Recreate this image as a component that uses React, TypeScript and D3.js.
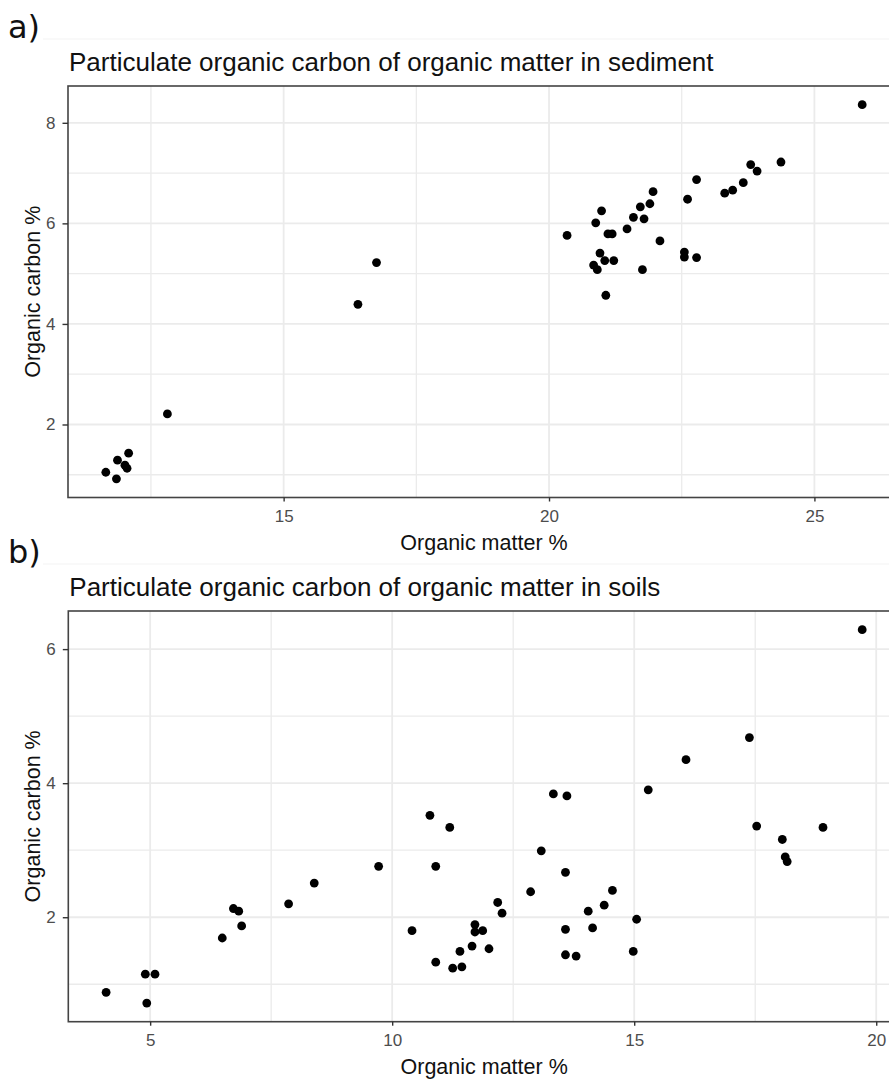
import React, { useRef, useEffect } from "react";
import * as d3 from "d3";

// sediment panel (a)
const sedimentOM = [
  11.65, 11.85, 11.87, 12.01, 12.05, 12.08, 12.81, 16.4, 16.75, 20.34, 20.88, 20.99, 21.11, 21.19,
  20.96, 20.84, 20.91, 21.05, 21.22, 21.07, 21.47, 21.59, 21.72, 21.79, 21.9, 21.96, 21.76, 22.09,
  22.55, 22.55, 22.61, 22.78, 22.78, 23.31, 23.46, 23.66, 23.8, 23.92, 24.37, 25.9,
];
const sedimentOC = [
  1.05, 0.92, 1.29, 1.19, 1.13, 1.43, 2.21, 4.39, 5.22, 5.76, 6.01, 6.25, 5.79, 5.79,
  5.41, 5.17, 5.08, 5.26, 5.26, 4.57, 5.89, 6.12, 6.33, 6.09, 6.39, 6.63, 5.08, 5.65,
  5.43, 5.33, 6.48, 6.87, 5.32, 6.6, 6.66, 6.81, 7.17, 7.04, 7.22, 8.36,
];
const sedimentXTicks = [15, 20, 25];
const sedimentXMinor = [12.5, 17.5, 22.5];
const sedimentYTicks = [2, 4, 6, 8];
const sedimentYMinor = [1, 3, 5, 7];

// soil panel (b)
const soilOM = [
  4.09, 4.9, 5.1, 4.93, 6.49, 6.72, 6.83, 6.89, 7.86, 8.39, 9.72, 10.78, 11.19, 10.9, 10.41, 10.9,
  11.25, 11.44, 11.4, 11.65, 11.71, 11.71, 11.87, 12.0, 12.18, 12.27, 12.86, 13.08, 13.33, 13.61,
  13.58, 13.58, 13.58, 13.8, 14.05, 14.14, 14.38, 14.55, 14.98, 15.05, 15.29, 16.07, 17.38, 17.53,
  18.06, 18.12, 18.16, 18.9, 19.71,
];
const soilOC = [
  0.88, 1.15, 1.15, 0.72, 1.69, 2.13, 2.09, 1.87, 2.2, 2.51, 2.76, 3.52, 3.34, 2.76, 1.8, 1.33,
  1.24, 1.26, 1.49, 1.57, 1.89, 1.78, 1.8, 1.53, 2.22, 2.06, 2.38, 2.99, 3.84, 3.81,
  2.67, 1.82, 1.44, 1.42, 2.09, 1.84, 2.18, 2.4, 1.49, 1.97, 3.9, 4.35, 4.68, 3.36,
  3.16, 2.9, 2.83, 3.34, 6.29,
];
const soilXTicks = [5, 10, 15, 20];
const soilXMinor = [7.5, 12.5, 17.5];
const soilYTicks = [2, 4, 6];
const soilYMinor = [1, 3, 5];

const W = 889;
const H = 1080;
const FONT = "Liberation Sans, Arial, sans-serif";

// ggplot-like 5% expansion
const expand = (vals: number[]) => {
  const [lo, hi] = d3.extent(vals) as [number, number];
  const pad = (hi - lo) * 0.05;
  return [lo - pad, hi + pad];
};

const drawPanel = (svg: any, opt: any) => {
  const { tag, title, xs, ys, xTicks, xMinor, yTicks, yMinor, left, right, top, bottom } = opt;
  const x = d3.scaleLinear().domain(expand(xs)).range([left, right]);
  const y = d3.scaleLinear().domain(expand(ys)).range([bottom, top]);
  const g = svg.append("g");

  // faint edge of the pasted figure
  g.append("line")
    .attr("x1", 43).attr("x2", W)
    .attr("y1", top - 47).attr("y2", top - 47)
    .attr("stroke", "#F3F3F3").attr("stroke-width", 1);

  g.append("text")
    .attr("x", 8)
    .attr("y", top - 48)
    .attr("font-family", "DejaVu Sans, sans-serif")
    .attr("font-size", 32)
    .attr("fill", "#111")
    .text(tag);

  g.append("text")
    .attr("x", left + 1)
    .attr("y", top - 15.5)
    .attr("font-family", FONT)
    .attr("font-size", 26)
    .attr("fill", "#111")
    .text(title);

  // grid
  const grid = g.append("g").attr("stroke", "#EBEBEB").attr("fill", "none");
  grid.selectAll(".vmin").data(xMinor).join("line")
    .attr("x1", (d: number) => x(d)).attr("x2", (d: number) => x(d))
    .attr("y1", top).attr("y2", bottom).attr("stroke-width", 1.3);
  grid.selectAll(".hmin").data(yMinor).join("line")
    .attr("y1", (d: number) => y(d)).attr("y2", (d: number) => y(d))
    .attr("x1", left).attr("x2", right).attr("stroke-width", 1.3);
  grid.selectAll(".vmaj").data(xTicks).join("line")
    .attr("x1", (d: number) => x(d)).attr("x2", (d: number) => x(d))
    .attr("y1", top).attr("y2", bottom).attr("stroke-width", 1.8);
  grid.selectAll(".hmaj").data(yTicks).join("line")
    .attr("y1", (d: number) => y(d)).attr("y2", (d: number) => y(d))
    .attr("x1", left).attr("x2", right).attr("stroke-width", 1.8);

  // points
  g.append("g")
    .selectAll("circle")
    .data(xs.map((v: number, i: number) => [v, ys[i]]))
    .join("circle")
    .attr("cx", (d: number[]) => x(d[0]))
    .attr("cy", (d: number[]) => y(d[1]))
    .attr("r", 4.4)
    .attr("fill", "#000");

  // panel border
  g.append("rect")
    .attr("x", left).attr("y", top)
    .attr("width", right - left).attr("height", bottom - top)
    .attr("fill", "none").attr("stroke", "#444").attr("stroke-width", 1.6);

  // axes
  const xAxis = d3.axisBottom(x).tickValues(xTicks).tickSize(4).tickPadding(8).tickFormat(d3.format("d"));
  const yAxis = d3.axisLeft(y).tickValues(yTicks).tickSize(5.5).tickPadding(7).tickFormat(d3.format("d"));
  const xa = g.append("g").attr("transform", `translate(0, ${bottom})`).call(xAxis);
  const ya = g.append("g").attr("transform", `translate(${left}, 0)`).call(yAxis);
  [xa, ya].forEach((a) => {
    a.select(".domain").remove();
    a.selectAll("line").attr("stroke", "#333").attr("stroke-width", 1.4);
    a.selectAll("text")
      .attr("font-family", FONT)
      .attr("font-size", 17)
      .attr("fill", "#4D4D4D");
  });

  g.append("text")
    .attr("x", (left + right) / 2)
    .attr("y", bottom + 52)
    .attr("text-anchor", "middle")
    .attr("font-family", FONT)
    .attr("font-size", 21.5)
    .attr("fill", "#111")
    .text("Organic matter %");

  g.append("text")
    .attr("transform", `translate(39.5, ${(top + bottom) / 2}) rotate(-90)`)
    .attr("text-anchor", "middle")
    .attr("font-family", FONT)
    .attr("font-size", 21.5)
    .attr("fill", "#111")
    .text("Organic carbon %");
};

export default function App() {
  const svgRef = useRef<SVGSVGElement>(null);

  useEffect(() => {
    const svg = d3.select(svgRef.current);
    svg.selectAll("*").remove();
    svg.append("rect").attr("width", W).attr("height", H).attr("fill", "#fff");

    drawPanel(svg, {
      tag: "a)",
      title: "Particulate organic carbon of organic matter in sediment",
      xs: sedimentOM, ys: sedimentOC,
      xTicks: sedimentXTicks, xMinor: sedimentXMinor,
      yTicks: sedimentYTicks, yMinor: sedimentYMinor,
      left: 68, right: 900, top: 86, bottom: 497.5,
    });

    drawPanel(svg, {
      tag: "b)",
      title: "Particulate organic carbon of organic matter in soils",
      xs: soilOM, ys: soilOC,
      xTicks: soilXTicks, xMinor: soilXMinor,
      yTicks: soilYTicks, yMinor: soilYMinor,
      left: 68.3, right: 900, top: 611, bottom: 1021.7,
    });
  }, []);

  return (
    <div style={{ position: "absolute", left: 0, top: 0 }}>
      <svg ref={svgRef} width={W} height={H} style={{ display: "block", overflow: "hidden" }}></svg>
    </div>
  );
}
